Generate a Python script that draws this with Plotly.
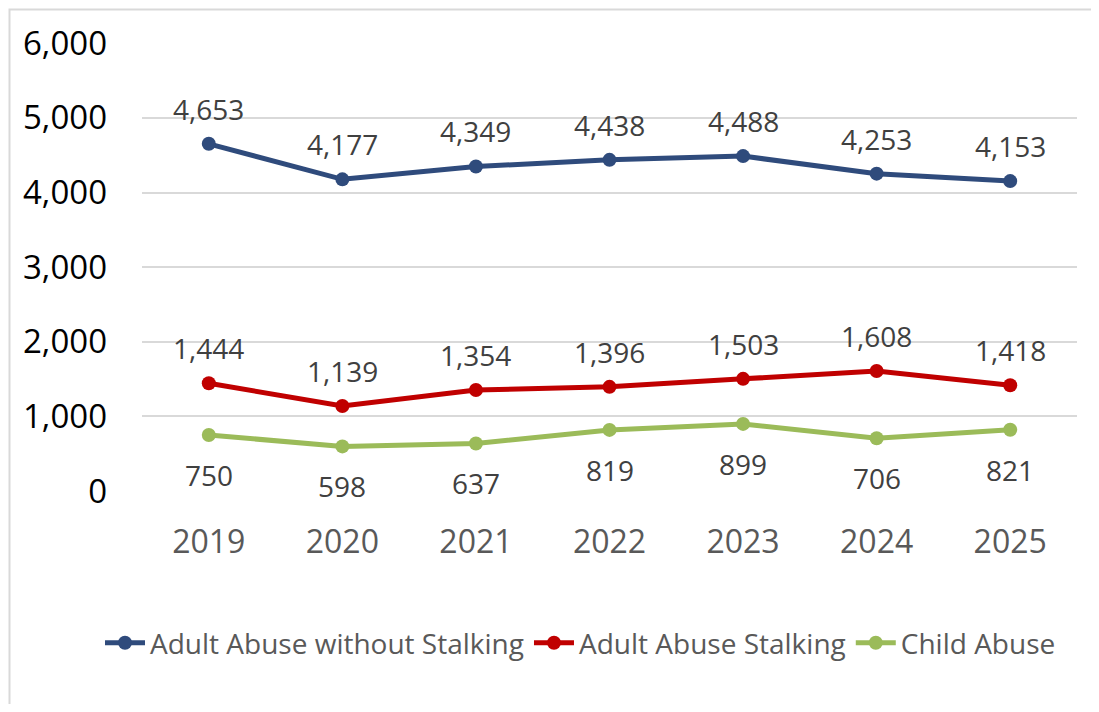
import plotly.graph_objects as go

years = ["2019", "2020", "2021", "2022", "2023", "2024", "2025"]
adult_no_stalking = [4653, 4177, 4349, 4438, 4488, 4253, 4153]
adult_stalking = [1444, 1139, 1354, 1396, 1503, 1608, 1418]
child_abuse = [750, 598, 637, 819, 899, 706, 821]

series = [
    ("Adult Abuse without Stalking", adult_no_stalking, "#2F4B7C", 35),
    ("Adult Abuse Stalking", adult_stalking, "#C00000", 35),
    ("Child Abuse", child_abuse, "#9BBB59", -40),
]

FONT = "Open Sans"
OFF = 8  # page body margin
W, H = 1099 - OFF, 696
L, T = 142 - OFF, 43 - OFF
R = W - (1077 - OFF)
B = H - (491 - OFF)
pw, ph = W - L - R, H - T - B

fig = go.Figure()
annotations = []
for name, vals, color, shift in series:
    fig.add_trace(go.Scatter(
        x=years, y=vals, name=name, mode="lines+markers",
        line=dict(color=color, width=5),
        marker=dict(color=color, size=14),
    ))
    for i, v in enumerate(vals):
        annotations.append(dict(
            x=i, y=v, xref="x", yref="y", text=f"{v:,}", showarrow=False,
            yshift=shift, font=dict(family=FONT, size=28, color="#404040"),
        ))

fig.update_layout(
    width=W, height=H,
    margin=dict(l=L, r=R, t=T, b=B, pad=0),
    paper_bgcolor="white", plot_bgcolor="white",
    font=dict(family=FONT),
    xaxis=dict(
        type="category", range=[-0.5, 6.5], showgrid=False, zeroline=False,
        showline=False, ticks="", tickfont=dict(family=FONT, size=32, color="#595959"),
        ticklabelstandoff=29,
    ),
    yaxis=dict(
        range=[0, 6004], tickvals=[0, 1000, 2000, 3000, 4000, 5000, 6000],
        tickformat=",", showgrid=True,
        gridcolor="#D9D9D9", gridwidth=2, zeroline=False, showline=False,
        ticks="", tickfont=dict(family=FONT, size=33, color="#000000"),
        ticklabelstandoff=34,
    ),
    showlegend=True,
    legend=dict(
        orientation="h", x=(100 - 142) / pw, xanchor="left",
        y=(491 - 643) / ph, yanchor="middle",
        font=dict(family=FONT, size=28, color="#595959"), itemwidth=40,
        tracegroupgap=0,
    ),
    annotations=annotations,
    shapes=[dict(
        type="rect", xref="paper", yref="paper",
        x0=(OFF + 1.5 - 142) / pw, x1=(1099 + 20 - 142) / pw,
        y0=(491 - 712 - 20) / ph, y1=(491 - OFF - 1.5) / ph,
        line=dict(color="#D9D9D9", width=2), fillcolor="rgba(0,0,0,0)", layer="below",
    )],
)

fig.write_html("out.html")
